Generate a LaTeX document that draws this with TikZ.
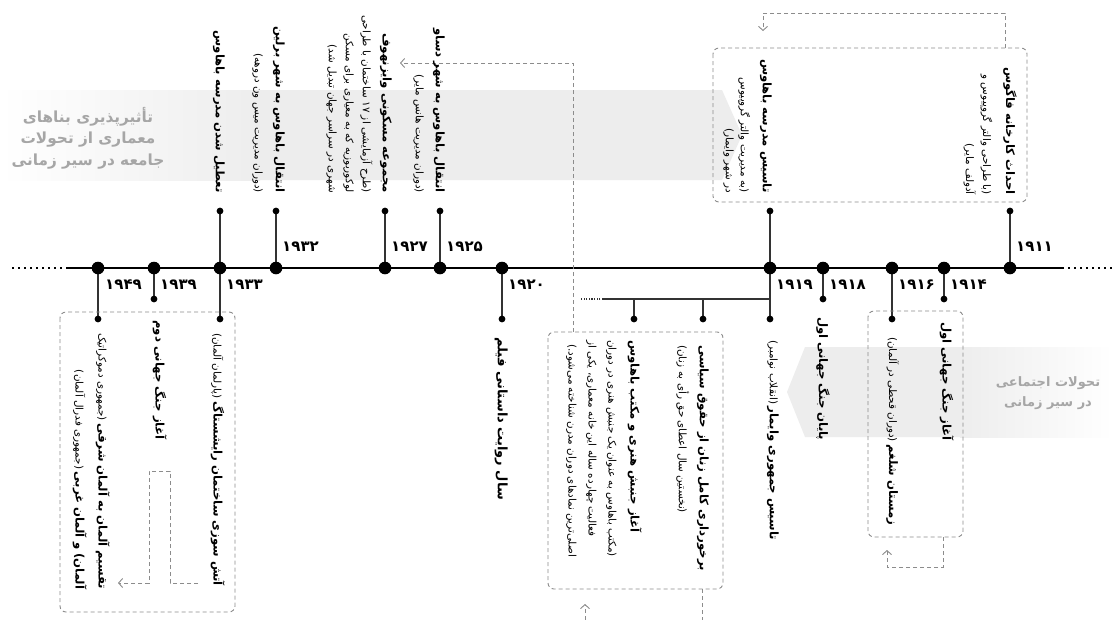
\documentclass[tikz,border=0pt]{standalone}
\usepackage{fontspec}
\usetikzlibrary{arrows.meta}
\TeXXeTstate=1
\newfontfamily\fa[Script=Arabic]{DejaVu Sans}
\newcommand{\Tf}{\bfseries\fontsize{11.7}{13}\selectfont}
\newcommand{\Sf}{\mdseries\fontsize{10.4}{11}\selectfont}
\newcommand{\TL}[1]{{\Tf\beginR #1\endR}}
\newcommand{\SL}[1]{{\Sf\beginR #1\endR}}
\tikzset{
  tline/.style={line width=2.6pt,black},
  tdots/.style={line width=2.6pt,black,dash pattern=on 2.4pt off 3.6pt},
  stemline/.style={line width=1.3pt,black!80},
  dbox/.style={draw=black!45,line width=0.9pt,dash pattern=on 4pt off 3pt,rounded corners=6pt},
  darrow/.style={draw=black!45,line width=0.9pt,dash pattern=on 4pt off 3pt,-{Straight Barb[length=4pt,width=9pt]}},
  toplab/.style={rotate=-90,anchor=north east,align=right,inner sep=0pt,font=\fa\fontsize{8}{17}\selectfont},
  botlab/.style={rotate=-90,anchor=north west,align=left,inner sep=0pt,font=\fa\fontsize{8}{17}\selectfont},
  yearlab/.style={anchor=west,inner sep=0pt,font=\fa\bfseries\fontsize{15}{16}\selectfont},
  bantext/.style={align=center,inner sep=0pt,text=black!35,font=\fa\bfseries\fontsize{15.3}{21.5}\selectfont},
}
\begin{document}
\begin{tikzpicture}[x=1pt,y=-1pt]
\useasboundingbox (0,0) rectangle (1113,619);
\fill[white] (0,0) rectangle (1113,619);
% banners
\shade[left color=white,right color=black!7] (0,90) rectangle (260,180);
\fill[black!7] (259.5,90) -- (722,90) -- (742,135) -- (722,180) -- (259.5,180) -- cycle;
\fill[black!7] (787,392) -- (805,347) -- (960.5,347) -- (960.5,437) -- (805,437) -- cycle;
\shade[left color=black!7,right color=white] (960,347) rectangle (1113,437);
\node[bantext] (ban1) at (88,138) {\beginR تأثیرپذیری بناهای\endR\\\beginR معماری از تحولات\endR\\\beginR جامعه در سیر زمانی\endR};
\node[bantext,font=\fa\bfseries\fontsize{13}{20}\selectfont] (ban2) at (1048,393) {\beginR تحولات اجتماعی\endR\\\beginR در سیر زمانی\endR};
% coordinates
\foreach \n/\x in {1949/98,1939/154,1933/220,1932/276,1927/385,1925/440,1920/502,1919/770,1918/823,1916/892,1914/944,1911/1010}{\coordinate (d\n) at (\x,268);}
\foreach \n/\x in {1933/220,1932/276,1927/385,1925/440,1919/770,1911/1010}{\coordinate (u\n) at (\x,211);}
\foreach \n/\x in {1949/98,1933/220,1920/502,1919/770,1916/892}{\coordinate (v\n) at (\x,319);}
\foreach \n/\x in {1939/154,1918/823,1914/944}{\coordinate (v\n) at (\x,299);}
\coordinate (br0) at (770,299);
\coordinate (br1) at (603,299);
\coordinate (br2) at (581,299);
\coordinate (w1) at (703,299); \coordinate (w1e) at (703,319);
\coordinate (w2) at (634,299); \coordinate (w2e) at (634,319);
\coordinate (tlLL) at (12,268); \coordinate (tlL) at (68,268);
\coordinate (tlR) at (1062,268); \coordinate (tlRR) at (1112,268);
% timeline
\draw[tdots] (tlLL) -- (tlL);
\draw[tline] (tlL) -- (tlR);
\draw[tdots] (tlR) -- (tlRR);
% stems
\foreach \n in {1933,1932,1927,1925,1919,1911}{\draw[stemline] (d\n) -- (u\n); \fill (u\n) circle (3.4pt);}
\foreach \n in {1949,1933,1920,1919,1916,1939,1918,1914}{\draw[stemline] (d\n) -- (v\n); \fill (v\n) circle (3.4pt);}
\draw[stemline] (br0) -- (br1);
\draw[line width=1.3pt,black!80,dash pattern=on 1.3pt off 1.3pt] (br1) -- (br2);
\draw[stemline] (w1) -- (w1e); \fill (w1e) circle (3.4pt);
\draw[stemline] (w2) -- (w2e); \fill (w2e) circle (3.4pt);
\foreach \n in {1949,1939,1933,1932,1927,1925,1920,1919,1918,1916,1914,1911}{\fill (d\n) circle (6.3pt);}
% dashed boxes
\draw[dbox] (713,48) rectangle (1027,202);
\draw[dbox] (60,312) rectangle (235,612);
\draw[dbox] (548,332) rectangle (723,589);
\draw[dbox] (868,311) rectangle (963,537);
% dashed arrows
\coordinate (a1s) at (1005,48); \coordinate (a1m) at (763,13); \coordinate (a1e) at (763,31);
\draw[darrow] (a1s) |- (a1m) -- (a1e);
\coordinate (a2s) at (573,332); \coordinate (a2e) at (400,63);
\draw[darrow] (a2s) |- (a2e);
\coordinate (a3a) at (198,583); \coordinate (a3b) at (170,471); \coordinate (a3c) at (149,583); \coordinate (a3e) at (118,583);
\draw[darrow] (a3a) -| (a3b) -| (a3c) -- (a3e);
\coordinate (a4s) at (702,589); \coordinate (a4m) at (585,630); \coordinate (a4e) at (585,604);
\draw[darrow] (a4s) |- (a4m) -- (a4e);
\coordinate (a5s) at (943,537); \coordinate (a5m) at (887,567); \coordinate (a5e) at (887,550);
\draw[darrow] (a5s) |- (a5m) -- (a5e);
% years
\node[yearlab] (y1932) at (282,247) {۱۹۳۲};
\node[yearlab] (y1927) at (391,247) {۱۹۲۷};
\node[yearlab] (y1925) at (446,247) {۱۹۲۵};
\node[yearlab] (y1911) at (1016,247) {۱۹۱۱};
\node[yearlab] (y1949) at (105,285) {۱۹۴۹};
\node[yearlab] (y1939) at (160,285) {۱۹۳۹};
\node[yearlab] (y1933) at (226,285) {۱۹۳۳};
\node[yearlab] (y1920) at (508,285) {۱۹۲۰};
\node[yearlab] (y1919) at (776,285) {۱۹۱۹};
\node[yearlab] (y1918) at (829,285) {۱۹۱۸};
\node[yearlab] (y1916) at (898,285) {۱۹۱۶};
\node[yearlab] (y1914) at (950,285) {۱۹۱۴};
% top labels
\node[toplab] (l1933) at (225,193) {\TL{تعطیل شدن مدرسه باهاوس}};
\node[toplab] (l1932) at (285,193) {\TL{انتقال باهاوس به شهر برلین}\\[4pt]\SL{(دوران مدیریت میس ون دروهه)}};
\node[toplab] (l1927) at (392,193) {\TL{مجموعه مسکونی وایزنهوف}\\[3pt]\SL{(طرح آزمایشی از ۱۷ ساختمان با طراحی}\\\SL{لوکوربوزیه که به معیاری برای مسکن}\\\SL{شهری در سراسر جهان تبدیل شد)}};
\node[toplab] (l1925) at (445,193) {\TL{انتقال باهاوس به شهر دساو}\\[3pt]\SL{(دوران مدیریت هانس مایر)}};
\node[toplab] (l1919) at (772,193) {\TL{تاسیس مدرسه باهاوس}\\[5pt]\SL{(به مدیریت والتر گروپیوس}\\[-2pt]\SL{در شهر وایمار)}};
\node[toplab] (l1911) at (1017,195) {\TL{احداث کارخانه فاگوس}\\[6pt]\SL{(با طراحی والتر گروپیوس و}\\\SL{آدولف مایر)}};
% bottom labels
\node[botlab,align=right] (b1949) at (110,333) {\beginR{\Tf تقسیم آلمان به آلمان شرقی} {\Sf(جمهوری دموکراتیک}\endR\\[6pt]\beginR{\Tf آلمان) و آلمان غربی} {\Sf(جمهوری فدرال آلمان)}\endR};
\node[botlab] (b1939) at (167,320) {\TL{آغاز جنگ جهانی دوم}};
\node[botlab] (b1933) at (225,333) {\beginR{\Tf آتش سوزی ساختمان رایشستاگ} {\Sf(پارلمان آلمان)}\endR};
\node[botlab] (b1920) at (508,337) {{\bfseries\fontsize{13}{15}\selectfont\beginR سال روایت داستانی فیلم\endR}};
\node[botlab] (b1919) at (779,340) {\beginR{\Tf تاسیس جمهوری وایمار} {\Sf(انقلاب نوامبر)}\endR};
\node[botlab] (bw) at (709,345) {\TL{برخورداری کامل زنان از حقوق سیاسی}\\[4pt]\SL{(نخستین سال اعطای حق رأی به زنان)}};
\node[botlab] (bb) at (642,340) {\TL{آغاز جنبش هنری و مکتب باهاوس}\\[5pt]\SL{(مکتب باهاوس به عنوان یک جنبش هنری در دوران}\\[3pt]\SL{فعالیت چهارده ساله این خانه معماری، یکی از}\\[3pt]\hfill\SL{اصلی‌ترین نمادهای دوران مدرن شناخته می‌شود.)}};
\node[botlab] (b1918) at (830,317) {\TL{پایان جنگ جهانی اول}};
\node[botlab] (b1916) at (899,337) {\beginR{\Tf زمستان شلغم} {\Sf(دوران قحطی در آلمان)}\endR};
\node[botlab] (b1914) at (954,322) {\TL{آغاز جنگ جهانی اول}};
\end{tikzpicture}
\end{document}
